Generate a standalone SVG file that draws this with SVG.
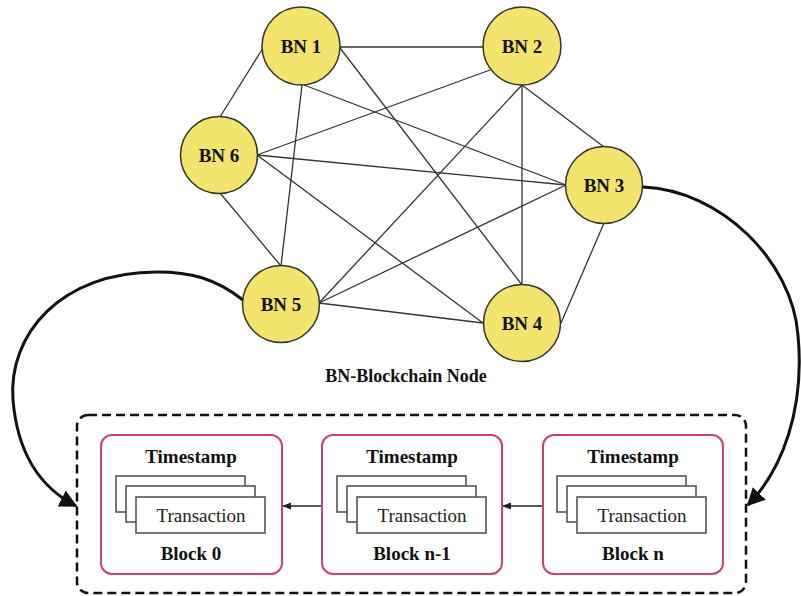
<svg xmlns="http://www.w3.org/2000/svg" width="801" height="596" viewBox="0 0 801 596">
<style>
.node circle{fill:#f2e46c;stroke:#333;stroke-width:1.5}
.lbl{font-family:'Liberation Serif','Times New Roman','DejaVu Serif',serif;font-weight:bold;font-size:19px;fill:#111;text-anchor:middle}
.edge{stroke:#333;stroke-width:1.3;fill:none}
.big{stroke:#111;stroke-width:3;fill:none;marker-end:url(#bigArrow)}
.blk{fill:#fff;stroke:#c9417c;stroke-width:2}
.tx{fill:#fff;stroke:#555;stroke-width:1.6}
.txt{font-family:'Liberation Serif','Times New Roman','DejaVu Serif',serif;font-size:19px;fill:#222;text-anchor:middle}
.link{stroke:#222;stroke-width:1.3;fill:none;marker-end:url(#smallArrow)}
</style>
<defs>
<marker id="bigArrow" viewBox="0 0 10 10" refX="9" refY="5" markerWidth="6" markerHeight="6" orient="auto" markerUnits="strokeWidth">
<path d="M0,0 L10,5 L0,10 Z" fill="#111"/>
</marker>
<marker id="smallArrow" viewBox="0 0 10 10" refX="9" refY="5" markerWidth="7" markerHeight="7" orient="auto" markerUnits="strokeWidth">
<path d="M0,1 L10,5 L0,9 Z" fill="#222"/>
</marker>
</defs>
<rect width="801" height="596" fill="#fff"/>
<g id="connectors">
<line class="edge" x1="340" y1="47" x2="483" y2="47"/>
<line class="edge" x1="263" y1="48" x2="220" y2="117"/>
<line class="edge" x1="302" y1="85" x2="281" y2="266"/>
<line class="edge" x1="304" y1="85" x2="566" y2="185"/>
<line class="edge" x1="340" y1="48" x2="522" y2="285"/>
<line class="edge" x1="490" y1="70" x2="257" y2="155"/>
<line class="edge" x1="522" y1="85" x2="319" y2="303"/>
<line class="edge" x1="522" y1="85" x2="522" y2="285"/>
<line class="edge" x1="522" y1="85" x2="604" y2="147"/>
<line class="edge" x1="257" y1="155" x2="566" y2="185"/>
<line class="edge" x1="257" y1="155" x2="483" y2="323"/>
<line class="edge" x1="220" y1="193" x2="281" y2="266"/>
<line class="edge" x1="566" y1="185" x2="319" y2="303"/>
<line class="edge" x1="604" y1="223" x2="561" y2="323"/>
<line class="edge" x1="319" y1="303" x2="483" y2="323"/>
<path class="big" d="M243,300 C215,278 190,272 157,272 C60,272 8,335 13,400 C18,460 45,490 76,506"/>
<path class="big" d="M643,187 C720,190 792,260 798,335 C805,410 782,470 748,505"/>
<line class="link" x1="322" y1="506" x2="283" y2="506"/>
<line class="link" x1="543" y1="506" x2="503" y2="506"/>
</g>
<g id="BN1" class="node"><circle cx="301" cy="46" r="39"/><text class="lbl" x="301" y="53">BN 1</text></g>
<g id="BN2" class="node"><circle cx="522" cy="46" r="39"/><text class="lbl" x="522" y="53">BN 2</text></g>
<g id="BN6" class="node"><circle cx="219" cy="155" r="38.5"/><text class="lbl" x="219" y="162">BN 6</text></g>
<g id="BN3" class="node"><circle cx="604" cy="185" r="38.5"/><text class="lbl" x="604" y="192">BN 3</text></g>
<g id="BN5" class="node"><circle cx="281" cy="304" r="38.5"/><text class="lbl" x="281" y="311">BN 5</text></g>
<g id="BN4" class="node"><circle cx="522" cy="323" r="38.5"/><text class="lbl" x="522" y="330">BN 4</text></g>
<text id="legend" class="lbl" x="406" y="382" style="font-size:18px">BN-Blockchain Node</text>
<g id="chain">
<rect x="77" y="415" width="669" height="178" rx="11" fill="none" stroke="#111" stroke-width="2.5" stroke-dasharray="9,5"/>
</g>
<g id="block0">
<rect class="blk" x="101" y="435" width="181" height="139" rx="11"/>
<text class="lbl" x="191" y="463">Timestamp</text>
<rect class="tx" x="116" y="476" width="129" height="36"/>
<rect class="tx" x="126" y="486" width="129" height="36"/>
<rect class="tx" x="136" y="497" width="129" height="36"/>
<text class="txt" x="201" y="522">Transaction</text>
<text class="lbl" x="191" y="560">Block 0</text>
</g>
<g id="blockn1">
<rect class="blk" x="322" y="435" width="180" height="139" rx="11"/>
<text class="lbl" x="412" y="463">Timestamp</text>
<rect class="tx" x="337" y="476" width="129" height="36"/>
<rect class="tx" x="347" y="486" width="129" height="36"/>
<rect class="tx" x="357" y="497" width="129" height="36"/>
<text class="txt" x="422" y="522">Transaction</text>
<text class="lbl" x="412" y="560">Block n-1</text>
</g>
<g id="blockn">
<rect class="blk" x="543" y="435" width="180" height="139" rx="11"/>
<text class="lbl" x="633" y="463">Timestamp</text>
<rect class="tx" x="557" y="476" width="129" height="36"/>
<rect class="tx" x="567" y="486" width="129" height="36"/>
<rect class="tx" x="577" y="497" width="129" height="36"/>
<text class="txt" x="642" y="522">Transaction</text>
<text class="lbl" x="633" y="560">Block n</text>
</g>
</svg>
